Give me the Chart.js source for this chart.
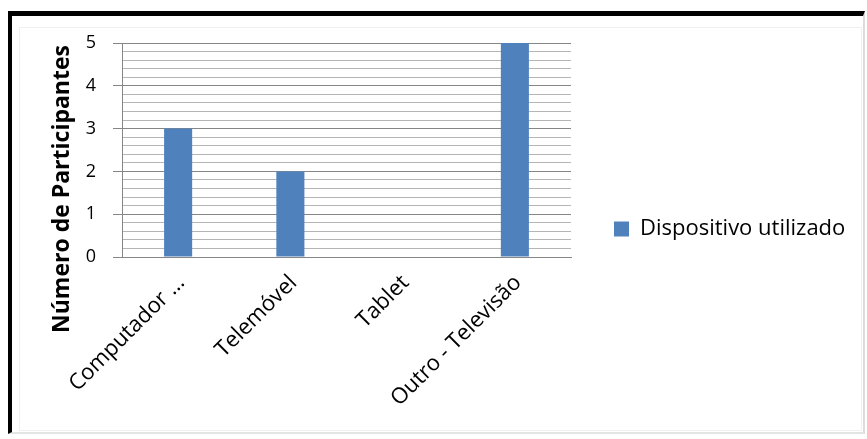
<!DOCTYPE html>
<html>
<head>
<meta charset="utf-8">
<script src="https://cdn.jsdelivr.net/npm/chart.js@4"></script>
<style>
  html, body { margin: 0; padding: 0; background: #fff; }
  #wrap { position: relative; width: 867px; height: 439px; overflow: hidden; }
  #c { position: absolute; left: 0; top: 0; }
  #frame {
    position: absolute; left: 8px; top: 11px; width: 857px; height: 423px;
    box-sizing: border-box; pointer-events: none;
    border-top: 5px solid #000; border-left: 4px solid #000;
    border-right: 2px solid #dcdcdc; border-bottom: 2px solid #e4e4e4;
  }
  #inner {
    position: absolute; left: 19px; top: 27px; width: 843px; height: 404px;
    box-sizing: border-box; pointer-events: none; border: 1px solid #f0f0f0;
  }
</style>
</head>
<body>
<div id="wrap">
  <canvas id="c" width="867" height="439"></canvas>
  <div id="inner"></div>
  <div id="frame"></div>
</div>
<script>
// Devices used by participants
const categories = ['Computador …', 'Telemóvel', 'Tablet', 'Outro - Televisão'];
const seriesName = 'Dispositivo utilizado';
const counts = [3, 2, 0, 5];
const yMin = 0;
const yMax = 5;
const yMinorStep = 0.2;
const yTitle = 'Número de Participantes';

const FONT = '"Open Sans", Lato, sans-serif';
const BAR = '#4F81BD';
const MAJOR = '#868686';
const MINOR = '#b5b5b5';

const W = 867;
const PLOT_RIGHT = 571;      // right edge of the plotting area
const LEGEND_GAP = 43;       // gap between plot and legend swatch
const LEGEND_BOX = 15;
const LEGEND_SIZE = 22;

const isMajor = v => Math.abs(v - Math.round(v)) < 1e-6;

// Legend width as Chart.js computes it for a right-hand legend,
// used to pick the right padding that leaves the plot ending at PLOT_RIGHT
const measureCtx = document.getElementById('c').getContext('2d');
measureCtx.font = LEGEND_SIZE + 'px ' + FONT;
const legendTextW = measureCtx.measureText(seriesName).width;
const legendW = LEGEND_GAP + LEGEND_BOX + LEGEND_SIZE / 2 + legendTextW + 10;
const rightPad = Math.max(0, W - PLOT_RIGHT - legendW);

// Rotated y-axis title, placed beside the value ticks
const yTitlePlugin = {
  id: 'yTitle',
  afterDraw(chart) {
    const ctx = chart.ctx;
    ctx.save();
    ctx.translate(69, 189);
    ctx.rotate(-Math.PI / 2);
    ctx.font = 'bold 23px ' + FONT;
    ctx.fillStyle = '#000';
    ctx.textAlign = 'center';
    ctx.textBaseline = 'alphabetic';
    ctx.fillText(yTitle, 0, 0);
    ctx.restore();
  }
};

new Chart(document.getElementById('c'), {
  type: 'bar',
  data: {
    labels: categories,
    datasets: [{
      label: seriesName,
      data: counts,
      backgroundColor: BAR,
      borderWidth: 0,
      barPercentage: 0.25,
      categoryPercentage: 1.0
    }]
  },
  options: {
    responsive: false,
    animation: false,
    devicePixelRatio: 1,
    layout: { padding: { left: 80, top: 43, right: rightPad, bottom: 24 } },
    plugins: {
      tooltip: { enabled: false },
      legend: {
        position: 'right',
        align: 'center',
        maxWidth: 400,
        labels: {
          boxWidth: LEGEND_BOX,
          boxHeight: LEGEND_BOX,
          padding: LEGEND_GAP,
          color: '#000',
          font: { family: FONT, size: LEGEND_SIZE }
        }
      }
    },
    scales: {
      x: {
        grid: { display: false, drawTicks: false },
        border: { display: true, color: MAJOR, width: 1 },
        ticks: {
          color: '#000',
          font: { family: FONT, size: 22 },
          minRotation: 45,
          maxRotation: 45,
          autoSkip: false,
          padding: 13,
          labelOffset: 3
        },
        afterFit(scale) {
          scale.height = 158;
          scale.paddingLeft = 0;
          scale.paddingRight = 0;
        }
      },
      y: {
        min: yMin,
        max: yMax,
        grid: {
          color: ctx => isMajor(ctx.tick.value) ? MAJOR : MINOR,
          tickColor: ctx => isMajor(ctx.tick.value) ? MAJOR : 'rgba(0,0,0,0)',
          tickLength: 9,
          lineWidth: 1
        },
        border: { display: true, color: MAJOR, width: 1 },
        ticks: {
          stepSize: yMinorStep,
          autoSkip: false,
          color: '#000',
          font: { family: FONT, size: 18 },
          padding: 17,
          callback: v => isMajor(v) ? String(Math.round(v)) : ''
        },
        afterFit(scale) {
          scale.width = 42;
          scale.paddingTop = 0;
          scale.paddingBottom = 0;
        }
      }
    }
  },
  plugins: [yTitlePlugin]
});
</script>
</body>
</html>
